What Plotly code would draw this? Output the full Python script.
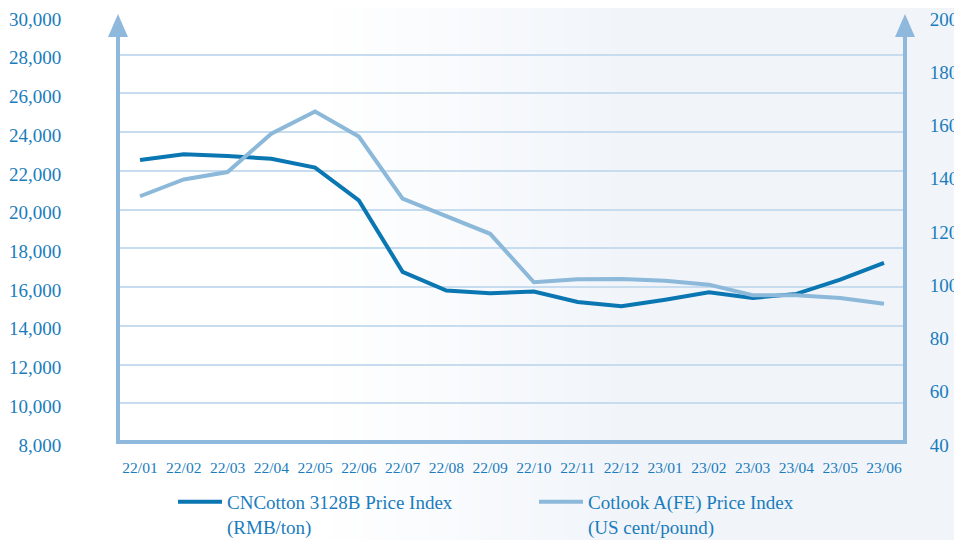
import plotly.graph_objects as go

months = ["22/01", "22/02", "22/03", "22/04", "22/05", "22/06", "22/07", "22/08", "22/09",
          "22/10", "22/11", "22/12", "23/01", "23/02", "23/03", "23/04", "23/05", "23/06"]
cncotton = [22560, 22860, 22770, 22630, 22170, 20480, 16790, 15820, 15680,
            15770, 15230, 15010, 15350, 15730, 15440, 15650, 16390, 17250]
cotlook = [132.3, 138.6, 141.4, 155.8, 164.1, 154.7, 131.4, 124.6, 118.2,
           100.0, 101.1, 101.2, 100.6, 99.1, 95.1, 95.1, 94.1, 91.9]
left_ticks = list(range(8000, 30001, 2000))
right_ticks = list(range(40, 201, 20))

DARK = "#0a76b2"
LIGHT = "#8cb8da"
AXIS = "#8fb9dc"
GRID = "#c7dcee"
TEXT = "#1a7cbc"
FONT = "Liberation Serif"

# page is 962x540; the html body has an 8px margin, so the figure is 8px smaller
OFF = 8
PAGE_W, PAGE_H = 962, 540
W, H = PAGE_W - OFF, PAGE_H - OFF
# plot-area edges in page pixels
L, R, T, B = 118, 905, 16, 442.5
pw, ph = R - L, B - T

def px_x(p):
    return (p - L) / pw

def px_y(p):
    return (B - p) / ph

fig = go.Figure()
fig.add_trace(go.Scatter(x=months, y=cncotton, mode="lines",
                         name="CNCotton 3128B Price Index<br>(RMB/ton)",
                         line=dict(color=DARK, width=4)))
fig.add_trace(go.Scatter(x=months, y=cotlook, mode="lines", yaxis="y2",
                         name="Cotlook A(FE) Price Index<br>(US cent/pound)",
                         line=dict(color=LIGHT, width=4)))

shapes = []
# background gradient
shapes.append(dict(type="rect", xref="paper", yref="paper", x0=px_x(-5), x1=px_x(320),
                   y0=px_y(545), y1=px_y(-5), fillcolor="#ffffff", line=dict(width=0), layer="below"))
c0 = (255, 255, 255)
c1 = (241, 245, 250)
n = 28
start, end = 320, 620
for i in range(n):
    a = start + (end - start) * i / n
    b = start + (end - start) * (i + 1) / n
    t = (i + 0.5) / n
    col = tuple(round(c0[k] + (c1[k] - c0[k]) * t) for k in range(3))
    shapes.append(dict(type="rect", xref="paper", yref="paper", x0=px_x(a), x1=px_x(b + 0.5),
                       y0=px_y(545), y1=px_y(-5), fillcolor="rgb(%d,%d,%d)" % col,
                       line=dict(width=0), layer="below"))

# axis frame with arrows
arrow_base = px_y(37)
shapes += [
    dict(type="line", xref="paper", yref="paper", x0=0, x1=0, y0=0, y1=arrow_base,
         line=dict(color=AXIS, width=4)),
    dict(type="line", xref="paper", yref="paper", x0=1, x1=1, y0=0, y1=arrow_base,
         line=dict(color=AXIS, width=4)),
    dict(type="line", xref="paper", yref="paper", x0=px_x(L - 2), x1=px_x(R + 2), y0=0, y1=0,
         line=dict(color=AXIS, width=4)),
]
for cx in (L, R):
    path = "M %f,%f L %f,%f L %f,%f Z" % (px_x(cx - 10), px_y(37), px_x(cx), px_y(14),
                                          px_x(cx + 10), px_y(37))
    shapes.append(dict(type="path", xref="paper", yref="paper", path=path,
                       fillcolor=AXIS, line=dict(color=AXIS, width=0)))

fig.update_layout(
    width=W, height=H,
    margin=dict(l=L - OFF, r=PAGE_W - R, t=T - OFF, b=PAGE_H - B, autoexpand=False),
    paper_bgcolor="#f1f5fa",
    plot_bgcolor="rgba(0,0,0,0)",
    font=dict(family=FONT, color=TEXT, size=19),
    showlegend=True,
    legend=dict(orientation="h", xref="container", yref="container",
                x=(173 - OFF) / W, xanchor="left", y=1 - (483 - OFF) / H, yanchor="top",
                valign="top", itemwidth=44, entrywidth=302, entrywidthmode="pixels",
                bgcolor="rgba(0,0,0,0)", font=dict(family=FONT, color=TEXT, size=19)),
    xaxis=dict(type="category", range=[-0.503, 17.48], showgrid=False, zeroline=False,
               showline=False, ticks="outside", ticklen=11, tickcolor="rgba(0,0,0,0)",
               tickfont=dict(size=15.5, family=FONT, color=TEXT), tickangle=0, automargin=False,
               ticklabeloverflow="allow"),
    yaxis=dict(range=[8000, 30000], tickvals=left_ticks,
               ticktext=[f"{v:,}" for v in left_ticks],
               showgrid=True, gridcolor=GRID, gridwidth=1.5, zeroline=False, showline=False,
               ticks="outside", ticklen=52, tickcolor="rgba(0,0,0,0)", automargin=False,
               ticklabeloverflow="allow", ticklabelshift=3,
               tickfont=dict(size=19, family=FONT, color=TEXT)),
    yaxis2=dict(range=[40, 200], tickvals=right_ticks, overlaying="y", side="right",
                showgrid=False, zeroline=False, showline=False, automargin=False,
                ticklabeloverflow="allow", ticklabelshift=3,
                ticks="outside", ticklen=20, tickcolor="rgba(0,0,0,0)",
                tickfont=dict(size=19, family=FONT, color=TEXT)),
    shapes=shapes,
)

fig.write_html("out.html")
